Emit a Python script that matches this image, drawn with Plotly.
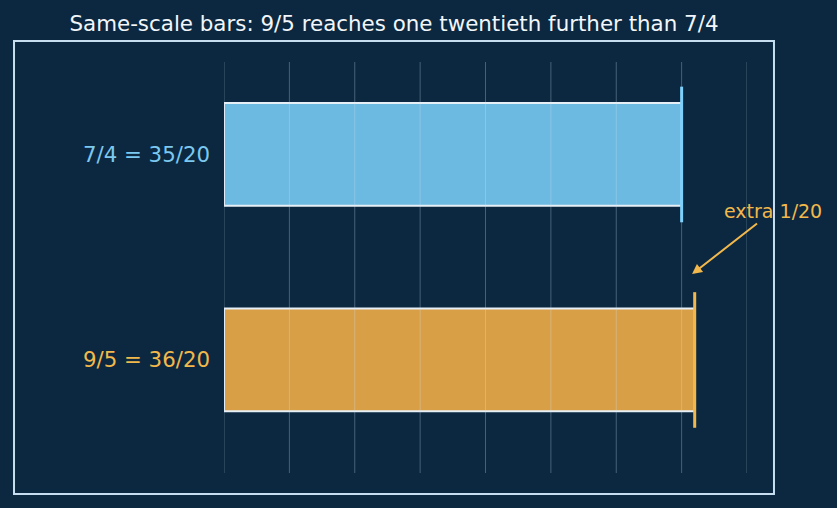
import plotly.graph_objects as go

# Data
labels = ["7/4 = 35/20", "9/5 = 36/20"]
values = [35/20, 36/20]
positions = [1, 0]
bar_colors = ["#6cb9e1", "#d89f46"]
end_colors = ["#7fd0fa", "#f2b84b"]
label_colors = ["#7cc8f0", "#f2b84b"]
grid_ticks = [0, 0.25, 0.5, 0.75, 1.0, 1.25, 1.5, 1.75, 2.0]
title_text = "Same-scale bars: 9/5 reaches one twentieth further than 7/4"
annot_text = "extra 1/20"

BG = "#0b2840"

fig = go.Figure()
for lab, v, p, c in zip(labels, values, positions, bar_colors):
    fig.add_trace(go.Bar(
        x=[v], y=[p], orientation="h", width=0.5,
        marker=dict(color=c, line=dict(color="#e6eef6", width=2)),
        showlegend=False, hoverinfo="skip",
    ))

# grid lines drawn above the bars
for g in grid_ticks:
    fig.add_shape(type="line", xref="x", yref="paper", x0=g, x1=g, y0=0, y1=1,
                  line=dict(color="rgba(210,230,250,0.3)", width=1), layer="above")

for v, p, c in zip(values, positions, end_colors):
    fig.add_shape(type="line", xref="x", yref="y", x0=v, x1=v, y0=p - 0.33, y1=p + 0.33,
                  line=dict(color=c, width=3), layer="above")

fig.add_shape(type="rect", xref="paper", yref="paper", x0=-0.4015, x1=1.0516,
              y0=-0.0511, y1=1.0511, line=dict(color="#c6def0", width=2), fillcolor="rgba(0,0,0,0)")

fig.add_annotation(x=1.79, y=0.418, xref="x", yref="y", text=annot_text, showarrow=True,
                   ax=81, ay=-63, arrowhead=2, arrowsize=1, arrowwidth=2, arrowcolor="#f2b84b",
                   font=dict(color="#f2b84b", size=19, family="DejaVu Sans"))

fig.update_layout(
    width=837, height=508,
    margin=dict(l=224, r=90, t=62, b=35),
    paper_bgcolor=BG, plot_bgcolor=BG,
    title=dict(text=title_text, x=394/837, xanchor="center", y=1 - 24/508, yanchor="middle",
               font=dict(color="#f2f6fa", size=21.4, family="DejaVu Sans")),
    font=dict(family="DejaVu Sans"),
    barmode="overlay",
)
fig.update_xaxes(range=[0, 2], showticklabels=False, showgrid=False,
                 zeroline=False, showline=False)
fig.update_yaxes(range=[-0.55, 1.45], tickvals=positions,
                 ticktext=[f'<span style="color:{c}">{t}</span>' for t, c in zip(labels, label_colors)],
                 tickfont=dict(size=21.3, family="DejaVu Sans"), ticklabelstandoff=13,
                 showgrid=False, zeroline=False, showline=False, ticks="")

fig.write_html("out.html")
